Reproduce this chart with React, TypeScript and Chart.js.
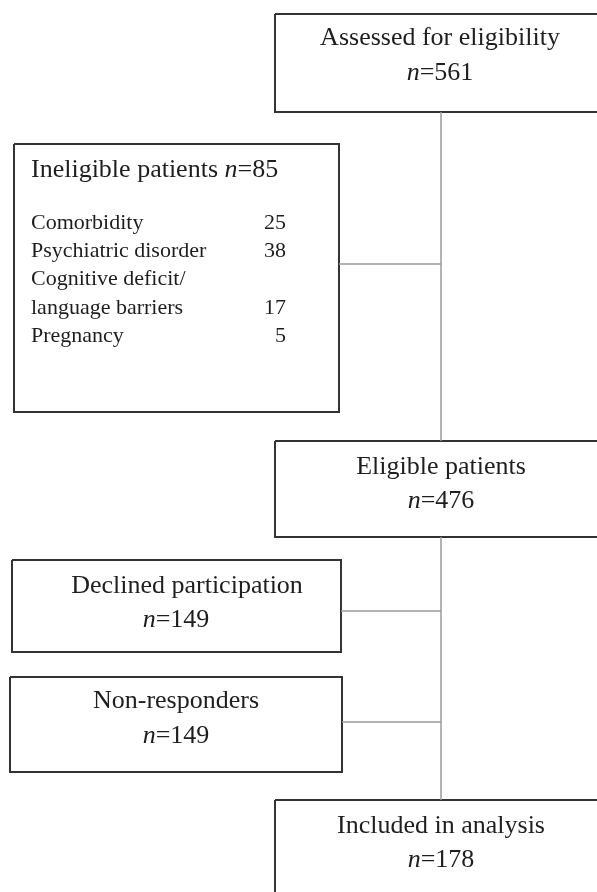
import React, { useEffect, useRef } from "react";
import { Chart, registerables } from "chart.js";

Chart.register(...registerables);

// ---- data ----
const stageLabels = [
  "Assessed for eligibility",
  "Ineligible patients",
  "Eligible patients",
  "Declined participation",
  "Non-responders",
  "Included in analysis",
];
const stageCounts = [561, 85, 476, 149, 149, 178];
const reasonLabels = ["Comorbidity", "Psychiatric disorder", "Cognitive deficit/\nlanguage barriers", "Pregnancy"];
const reasonCounts = [25, 38, 17, 5];

// ---- layout (in chart units: x 0..597, y 0..892 top-down) ----
const boxes = [
  { x0: 275, x1: 660, y0: 14, y1: 112 },
  { x0: 14, x1: 339, y0: 144, y1: 412 },
  { x0: 275, x1: 660, y0: 441, y1: 537 },
  { x0: 12, x1: 341, y0: 560, y1: 652 },
  { x0: 10, x1: 342, y0: 677, y1: 772 },
  { x0: 275, x1: 660, y0: 800, y1: 980 },
];
const titleCx = [440, 31, 441, 187, 176, 441];
const countCx = [440, 31, 441, 176, 176, 441];
const titleBaseline = [45, 177, 474, 593, 708, 833];
const countBaseline = [80, 177, 508, 627, 743, 867];
const connectors = [
  [441, 112, 441, 441],
  [441, 537, 441, 800],
  [339, 264, 441, 264],
  [341, 611, 441, 611],
  [342, 722, 441, 722],
];
const reasonX = 31;
const reasonCountX = 286;
const reasonFirstBaseline = 229;
const reasonStep = 28.2;

const FONT = "'Liberation Serif', 'Times New Roman', serif";
const TEXT = "#1e1e1e";

type Seg = { t: string; it?: boolean };

function segWidth(ctx: CanvasRenderingContext2D, s: Seg, size: number) {
  ctx.font = `${s.it ? "italic " : ""}${size}px ${FONT}`;
  return ctx.measureText(s.t).width;
}

function drawSegs(ctx: CanvasRenderingContext2D, segs: Seg[], x: number, y: number, size: number, align: string) {
  const total = segs.reduce((a, s) => a + segWidth(ctx, s, size), 0);
  let cx = align === "center" ? x - total / 2 : align === "right" ? x - total : x;
  ctx.textBaseline = "alphabetic";
  ctx.textAlign = "left";
  ctx.fillStyle = TEXT;
  for (const s of segs) {
    ctx.font = `${s.it ? "italic " : ""}${size}px ${FONT}`;
    ctx.fillText(s.t, cx, y);
    cx += ctx.measureText(s.t).width;
  }
}

const textPlugin = {
  id: "flowText",
  afterDatasetsDraw(chart: any) {
    const ctx: CanvasRenderingContext2D = chart.ctx;
    const xs = chart.scales.x;
    const ys = chart.scales.y;
    const px = (v: number) => xs.getPixelForValue(v);
    const py = (v: number) => ys.getPixelForValue(v);
    ctx.save();
    stageLabels.forEach((label, i) => {
      if (i === 1) {
        drawSegs(
          ctx,
          [{ t: label + " " }, { t: "n", it: true }, { t: "=" + stageCounts[i] }],
          px(titleCx[i]),
          py(titleBaseline[i]),
          26,
          "left"
        );
        let row = 0;
        reasonLabels.forEach((r, j) => {
          const lines = r.split("\n");
          lines.forEach((ln) => {
            drawSegs(ctx, [{ t: ln }], px(reasonX), py(reasonFirstBaseline + row * reasonStep), 22, "left");
            row++;
          });
          drawSegs(
            ctx,
            [{ t: String(reasonCounts[j]) }],
            px(reasonCountX),
            py(reasonFirstBaseline + (row - 1) * reasonStep),
            22,
            "right"
          );
        });
      } else {
        drawSegs(ctx, [{ t: label }], px(titleCx[i]), py(titleBaseline[i]), 26, "center");
        drawSegs(
          ctx,
          [{ t: "n", it: true }, { t: "=" + stageCounts[i] }],
          px(countCx[i]),
          py(countBaseline[i]),
          26,
          "center"
        );
      }
    });
    ctx.restore();
  },
};

export default function App() {
  const ref = useRef<HTMLCanvasElement>(null);
  useEffect(() => {
    if (!ref.current) return;
    const boxSets = boxes.map((b, i) => ({
      label: stageLabels[i],
      data: [
        { x: b.x0, y: b.y0 },
        { x: b.x1, y: b.y0 },
        { x: b.x1, y: b.y1 },
        { x: b.x0, y: b.y1 },
        { x: b.x0, y: b.y0 },
      ],
      showLine: true,
      borderColor: "#333333",
      borderWidth: 2,
      borderJoinStyle: "miter" as const,
      pointRadius: 0,
      fill: false,
      tension: 0,
    }));
    const connSets = connectors.map((c, i) => ({
      label: "c" + i,
      data: [
        { x: c[0], y: c[1] },
        { x: c[2], y: c[3] },
      ],
      showLine: true,
      borderColor: "#9a9a9a",
      borderWidth: 1.5,
      pointRadius: 0,
      fill: false,
    }));
    const chart = new Chart(ref.current, {
      type: "scatter",
      data: { datasets: [...connSets, ...boxSets] as any },
      options: {
        animation: false,
        responsive: true,
        maintainAspectRatio: false,
        layout: { padding: 0 },
        plugins: { legend: { display: false }, tooltip: { enabled: false } },
        events: [],
        scales: {
          x: { type: "linear", min: 0, max: 597, display: false },
          y: { type: "linear", min: 0, max: 892, reverse: true, display: false },
        },
      },
      plugins: [textPlugin],
    });
    return () => chart.destroy();
  }, []);
  return (
    <div style={{ position: "fixed", left: 0, top: 0, width: 597, height: 892, background: "#fff" }}>
      <canvas ref={ref} />
    </div>
  );
}
